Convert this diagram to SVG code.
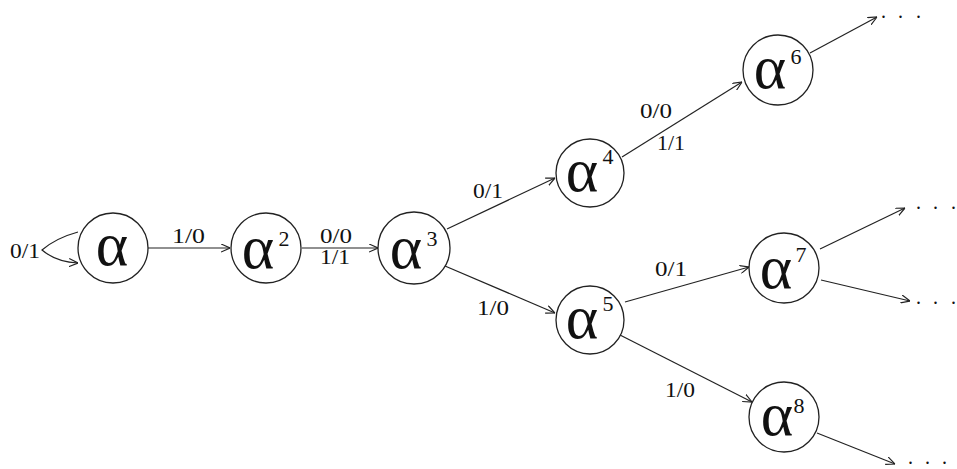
<svg xmlns="http://www.w3.org/2000/svg" width="957" height="469" viewBox="0 0 957 469">
<style>
.node circle{fill:none;stroke:#222;stroke-width:1.3}
.a{font-family:"Liberation Serif","DejaVu Serif",serif;font-size:62px;fill:#111;text-anchor:middle}
.s{font-family:"Liberation Serif",serif;font-size:22px;fill:#111;text-anchor:middle}
.lbl{font-family:"Liberation Serif",serif;font-size:20px;fill:#111}
.dots{font-family:"Liberation Serif",serif;font-size:20px;fill:#111}
#edges path,#edges line{fill:none;stroke:#222;stroke-width:1.2;marker-end:url(#arr)}
</style>
<defs>
<marker id="arr" viewBox="0 0 10 10" refX="10" refY="5" markerWidth="9" markerHeight="9" markerUnits="userSpaceOnUse" orient="auto">
<path d="M0,0.5 L10,5 L0,9.5" fill="none" stroke="#222" stroke-width="1.3"/>
</marker>
</defs>
<rect width="957" height="469" fill="#fff"/>
<g id="edges">
<path d="M78,232 Q56,238 42,250 Q56,262 78,263"/>
<line x1="148" y1="248" x2="230" y2="248"/>
<line x1="302" y1="248" x2="378" y2="248"/>
<line x1="447" y1="229" x2="555" y2="178"/>
<line x1="445" y1="266" x2="555" y2="313"/>
<line x1="622" y1="157" x2="742" y2="82"/>
<line x1="810" y1="53" x2="877" y2="17"/>
<line x1="625" y1="302" x2="749" y2="267"/>
<line x1="620" y1="335" x2="752" y2="402"/>
<line x1="820" y1="249" x2="905" y2="208"/>
<line x1="821" y1="280" x2="910" y2="301"/>
<line x1="817" y1="433" x2="895" y2="464"/>
</g>
<g id="labels">
<text class="lbl" x="10" y="258" textLength="30" lengthAdjust="spacingAndGlyphs">0/1</text>
<text class="lbl" x="172" y="243" textLength="33" lengthAdjust="spacingAndGlyphs">1/0</text>
<text class="lbl" x="320" y="243" textLength="32" lengthAdjust="spacingAndGlyphs">0/0</text>
<text class="lbl" x="320" y="264" textLength="30" lengthAdjust="spacingAndGlyphs">1/1</text>
<text class="lbl" x="473" y="198" textLength="30" lengthAdjust="spacingAndGlyphs">0/1</text>
<text class="lbl" x="477" y="315" textLength="32" lengthAdjust="spacingAndGlyphs">1/0</text>
<text class="lbl" x="640" y="118" textLength="32" lengthAdjust="spacingAndGlyphs">0/0</text>
<text class="lbl" x="657" y="150" textLength="28" lengthAdjust="spacingAndGlyphs">1/1</text>
<text class="lbl" x="655" y="276" textLength="32" lengthAdjust="spacingAndGlyphs">0/1</text>
<text class="lbl" x="665" y="397" textLength="30" lengthAdjust="spacingAndGlyphs">1/0</text>
<text class="dots" x="881 898 916" y="18">...</text>
<text class="dots" x="916 933 951" y="209">...</text>
<text class="dots" x="916 933 951" y="304">...</text>
<text class="dots" x="908 925 942" y="464">...</text>
</g>
<g id="n1" class="node"><circle cx="113" cy="248" r="35"/><text class="a" x="112" y="265">α</text></g>
<g id="n2" class="node"><circle cx="266" cy="248" r="35"/><text class="a" x="258" y="268">α</text><text class="s" x="284" y="246">2</text></g>
<g id="n3" class="node"><circle cx="414" cy="248" r="36"/><text class="a" x="406" y="268">α</text><text class="s" x="432" y="246">3</text></g>
<g id="n4" class="node"><circle cx="590" cy="173" r="34"/><text class="a" x="582" y="191">α</text><text class="s" x="608" y="164">4</text></g>
<g id="n5" class="node"><circle cx="590" cy="320" r="34"/><text class="a" x="582" y="338">α</text><text class="s" x="608" y="311">5</text></g>
<g id="n6" class="node"><circle cx="778" cy="70" r="35"/><text class="a" x="770" y="88">α</text><text class="s" x="796" y="64">6</text></g>
<g id="n7" class="node"><circle cx="784" cy="268" r="35"/><text class="a" x="776" y="288">α</text><text class="s" x="801" y="262">7</text></g>
<g id="n8" class="node"><circle cx="784" cy="417" r="35"/><text class="a" x="777" y="435">α</text><text class="s" x="799" y="413">8</text></g>
</svg>
